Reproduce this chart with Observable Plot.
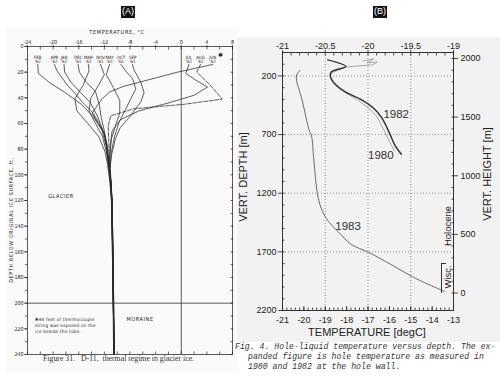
<!DOCTYPE html>
<html><head><meta charset="utf-8">
<script src="https://cdn.jsdelivr.net/npm/d3@7"></script>
<script src="https://cdn.jsdelivr.net/npm/@observablehq/plot@0.6"></script>
<style>
html,body{margin:0;padding:0;background:#fff;}
#root{position:relative;width:500px;height:380px;overflow:hidden;background:#fff;font-family:"Liberation Sans",Arial,sans-serif;color:#222;}
.abs{position:absolute;white-space:nowrap;line-height:1;}
.c{transform:translate(-50%,-50%);}
.rot{transform:translate(-50%,-50%) rotate(-90deg);}
.tag{position:absolute;background:#111;color:#fff;font-size:9px;line-height:11px;text-align:center;}
.lay{position:absolute;left:0;top:0;width:240px;height:380px;}
.layB{position:absolute;left:240px;top:0;width:260px;height:380px;}
.mono{font-family:"Liberation Mono","DejaVu Sans Mono",monospace;font-style:italic;font-size:8.2px;color:#333;}
.cond{font-family:"DejaVu Sans Condensed","Liberation Sans Narrow","Liberation Sans",sans-serif;}
</style></head><body><div id="root"></div>
<script>
// ================= Panel A : D-11 thermal regime (temp °C vs depth ft) =================
const monthNames = ["FEB\n'62","APR\n'62","JAN\n'62","DEC\n'61","MAR\n'62","NOV\n'61","MAY\n'62","OCT\n'61","SEP\n'61","JUL\n'62","AUG\n'62","JUN\n'62"];
// [depth ft, temperature °C]
const feb62 = [[14,-22.4],[21,-22.3],[28,-20.6],[36,-18.1],[45,-15.6],[55,-13.7],[65,-12.4],[78,-11.7],[92,-11.4],[105,-11.1],[120,-10.9],[160,-10.75],[200,-10.6],[240,-10.5]];
const apr62 = [[14,-19.8],[19,-19.4],[30,-17.8],[37,-16.5],[43,-15.5],[51,-13.9],[59,-12.9],[69,-11.9],[80,-11.5],[92,-11.35],[105,-11.0],[120,-10.85],[160,-10.7],[200,-10.6],[240,-10.5]];
const jan62 = [[14,-18.3],[20,-18.2],[28,-17.2],[36,-15.7],[43,-14.3],[54,-13.1],[67,-12.1],[80,-11.6],[92,-11.3],[105,-11.05],[120,-10.8],[160,-10.65],[200,-10.55],[240,-10.45]];
const dec61 = [[14,-16.1],[20,-15.9],[28,-14.8],[35,-13.4],[45,-12.8],[55,-12.5],[66,-12.0],[80,-11.6],[92,-11.25],[105,-11.0],[120,-10.8],[160,-10.7],[200,-10.6],[240,-10.5]];
const mar62 = [[14,-14.5],[19,-14.4],[30,-15.3],[41,-16.6],[50,-16.3],[60,-14.6],[70,-12.9],[82,-11.9],[92,-11.5],[105,-11.15],[120,-10.9],[160,-10.75],[200,-10.65],[240,-10.55]];
const nov61 = [[14,-12.6],[22,-12.0],[30,-12.9],[40,-14.1],[50,-14.4],[60,-13.4],[70,-12.3],[82,-11.7],[92,-11.3],[105,-11.05],[120,-10.85],[160,-10.7],[200,-10.6],[240,-10.5]];
const may62 = [[14,-11.2],[22,-11.7],[32,-10.6],[42,-9.6],[52,-9.6],[62,-10.3],[72,-10.9],[85,-11.15],[95,-11.2],[105,-11.0],[120,-10.8],[160,-10.65],[200,-10.55],[240,-10.45]];
const oct61 = [[14,-9.4],[19,-8.7],[25,-7.6],[33,-7.1],[41,-7.9],[49,-8.7],[59,-9.7],[70,-10.4],[82,-10.9],[95,-11.1],[105,-10.95],[120,-10.8],[160,-10.65],[200,-10.55],[240,-10.5]];
const sep61 = [[14,-7.6],[18,-7.4],[28,-6.3],[36,-5.8],[43,-6.3],[54,-7.9],[63,-9.5],[72,-10.3],[85,-10.9],[95,-11.15],[105,-11.0],[120,-10.85],[160,-10.7],[200,-10.6],[240,-10.5]];
const jul62 = [[14,1.2],[21,0.7],[26,2.2],[31.6,4.1],[38,2.0],[44,-2.0],[50,-6.5],[57,-9.5],[66,-10.8],[78,-11.1],[92,-11.2],[105,-11.0],[120,-10.8],[160,-10.7],[200,-10.6],[240,-10.5]];
const aug62 = [[14,3.0],[20,2.4],[30,4.5],[41,6.4],[45,0.5],[48.5,-7.4],[54,-11.0],[62,-11.4],[75,-11.3],[90,-11.2],[105,-11.0],[120,-10.85],[160,-10.7],[200,-10.6],[240,-10.5]];
const jun62 = [[14,4.9],[20,-0.6],[26.5,-5.5],[31,-9.0],[35.5,-11.2],[41,-12.4],[46,-13.1],[52,-13.9],[60,-13.0],[68,-12.0],[78,-11.5],[92,-11.3],[105,-11.05],[120,-10.85],[160,-10.7],[200,-10.6],[240,-10.5]];
const tempLabelsA = [-24,-20,-16,-12,-8,-4,0,4,8];
const tempMinorA = [-24,-22,-20,-18,-16,-14,-12,-10,-8,-6,-4,-2,0,2,4,6,8];
const depthLabelsA = [0,20,40,60,80,100,120,140,160,180,200,220,240];
const depthMinorA = [0,10,20,30,40,50,60,70,80,90,100,110,120,130,140,150,160,170,180,190,200,210,220,230,240];
const meltLineA = [0];
const moraineTopA = [200];

// ================= Panel B : hole-liquid temperature vs depth =================
const depth1983 = [151,200,414,670,704,926,1200,1328,1439,1525,1636,1704,1807,1918,2020,2038];
const temp1983  = [-20.18,-20.35,-20.07,-19.74,-19.65,-19.53,-19.37,-19.19,-18.86,-18.41,-17.79,-16.97,-15.93,-14.86,-13.65,-13.42];
const depth1982 = [63,120,166,206,257,343,397,471,556,685,798,867];
const temp1982  = [-20.47,-20.26,-20.43,-20.44,-20.40,-20.25,-20.09,-19.94,-19.84,-19.75,-19.68,-19.61];
const depth1980 = [72,55,89,80,106,123,174,209,260,345,405,482,550,653,756,841];
const temp1980  = [-20.06,-19.93,-20.01,-19.89,-19.95,-20.26,-20.43,-20.44,-20.40,-20.26,-20.12,-19.98,-19.89,-19.82,-19.75,-19.69];
const tempLabelsB = [-21,-20,-19,-18,-17,-16,-15,-14,-13];
const tempGridB = [-19,-17,-15];
const tempLabelsTopB = [-21,-20.5,-20,-19.5,-19];
const depthLabelsB = [200,700,1200,1700,2200];
const depthGridB = [200,700,1200,1700];
const heightLabelsB = [0,500,1000,1500,2000];

// ---------------- build ----------------
const root = document.getElementById("root");
function add(html){ root.insertAdjacentHTML("beforeend", html); }
const fmt = d => String(d);
const fontA = "Liberation Sans, Arial, sans-serif";
const fontCond = "DejaVu Sans Condensed, Liberation Sans Narrow, Liberation Sans, sans-serif";

// backgrounds
add(`<div class="abs" style="left:6px;top:28px;width:231px;height:344px;background:#fafafa"></div>`);
add(`<div class="abs" style="left:237px;top:37px;width:263px;height:305px;background:#f2f2f2"></div>`);

const profilesA = [feb62, apr62, jan62, dec61, mar62, nov61, may62, oct61, sep61, jul62, aug62, jun62];
const rowsA = profilesA.flatMap((p, i) => p.map(([d, t]) => ({m: monthNames[i], d, t})));
const startsA = profilesA.map((p, i) => ({m: monthNames[i], d: p[0][0], t: p[0][1]}));

const plotA = Plot.plot({
  width: 240, height: 380,
  marginLeft: 27, marginRight: 8, marginTop: 46, marginBottom: 26,
  style: {background: "transparent", fontFamily: fontCond, color: "#222"},
  x: {domain: [-24, 8], axis: null},
  y: {domain: [0, 240], reverse: true, axis: null},
  marks: [
    Plot.frame({stroke: "#333", strokeWidth: 0.8}),
    Plot.ruleX(meltLineA, {stroke: "#333", strokeWidth: 0.8}),
    Plot.ruleY(moraineTopA, {stroke: "#333", strokeWidth: 0.8}),
    Plot.axisX({anchor: "top", ticks: tempMinorA, tickSize: -2.5, fill: "none", label: null, strokeWidth: 0.7}),
    Plot.axisX({anchor: "top", ticks: tempLabelsA, tickSize: 2, tickPadding: 1, fontSize: 5.3, tickFormat: fmt, label: null, strokeWidth: 0.7}),
    Plot.axisX({anchor: "bottom", ticks: tempMinorA, tickSize: -2.5, fill: "none", label: null, strokeWidth: 0.7}),
    Plot.axisY({anchor: "left", ticks: depthMinorA, tickSize: 2, fill: "none", label: null, strokeWidth: 0.7}),
    Plot.axisY({anchor: "left", ticks: depthLabelsA, tickSize: 3, tickPadding: 1, fontSize: 5.3, tickFormat: fmt, label: null, strokeWidth: 0.7}),
    Plot.axisY({anchor: "right", ticks: depthMinorA, tickSize: -2.5, fill: "none", label: null, strokeWidth: 0.7}),
    Plot.line(rowsA.filter(r => r.m !== "AUG\n'62"), {x: "t", y: "d", z: "m", stroke: "#2a2a2a", strokeWidth: 0.75}),
    Plot.line(rowsA.filter(r => r.m === "AUG\n'62"), {x: "t", y: "d", stroke: "#2a2a2a", strokeWidth: 0.75, strokeDasharray: "4,1.5"}),
    Plot.text(startsA, {x: "t", y: "d", text: "m", lineAnchor: "bottom", dy: -1, fontSize: 4.4, lineHeight: 1.0, fill: "#222"})
  ]
});
const dA = document.createElement("div"); dA.className = "lay"; dA.appendChild(plotA); root.appendChild(dA);

// Panel B layer 1 : bottom scale, depth axis, 1983 curve
const rows1983 = temp1983.map((t, i) => ({t, d: depth1983[i]}));
const rows1982 = temp1982.map((t, i) => ({t, d: depth1982[i]}));
const rows1980 = temp1980.map((t, i) => ({t, d: depth1980[i]}));
const commonB = {width: 260, height: 380, marginLeft: 42, marginRight: 47, marginTop: 52, marginBottom: 70,
  style: {background: "transparent", fontFamily: fontA, color: "#222"}};
const tempMinorB = d3.range(-21, -12.99, 0.2);
const tempMinorTopB = d3.range(-21, -18.99, 0.1);
const depthMinorB = d3.range(0, 2201, 100);
const heightMinorB = d3.range(0, 2001, 100);

const plotB1 = Plot.plot({...commonB,
  x: {domain: [-21, -13], axis: null},
  y: {domain: [0, 2200], reverse: true, axis: null},
  marks: [
    Plot.gridX(tempGridB, {stroke: "#777", strokeOpacity: 1, strokeWidth: 0.8, strokeDasharray: "1,2"}),
    Plot.gridY(depthGridB, {stroke: "#777", strokeOpacity: 1, strokeWidth: 0.8, strokeDasharray: "1,2"}),
    Plot.frame({stroke: "#333", strokeWidth: 1}),
    Plot.axisX({anchor: "bottom", ticks: tempMinorB, tickSize: -2.5, fill: "none", label: null, strokeWidth: 0.8}),
    Plot.axisX({anchor: "bottom", ticks: tempLabelsB, tickSize: -4, tickPadding: 10, fontSize: 9, tickFormat: fmt, label: null, strokeWidth: 0.8}),
    Plot.axisY({anchor: "left", ticks: depthMinorB, tickSize: -2.5, fill: "none", label: null, strokeWidth: 0.8}),
    Plot.axisY({anchor: "left", ticks: depthLabelsB, tickSize: 4, tickPadding: 2, fontSize: 9, tickFormat: fmt, label: null, strokeWidth: 0.8}),
    Plot.line(rows1983, {x: "t", y: "d", stroke: "#6a6a6a", strokeWidth: 1, curve: "catmull-rom"}),
    Plot.text(["1983"], {x: -17.93, y: 1482, text: d => d, fontSize: 11.5, fill: "#333"})
  ]
});
const dB1 = document.createElement("div"); dB1.className = "layB"; dB1.appendChild(plotB1); root.appendChild(dB1);

// Panel B layer 2 : expanded top scale with 1980 & 1982
const plotB2 = Plot.plot({...commonB,
  x: {domain: [-21, -19], axis: null},
  y: {domain: [0, 2200], reverse: true, axis: null},
  marks: [
    Plot.axisX({anchor: "top", ticks: tempMinorTopB, tickSize: -2.5, fill: "none", label: null, strokeWidth: 0.8}),
    Plot.axisX({anchor: "top", ticks: tempLabelsTopB, tickSize: 3, tickPadding: 1, fontSize: 9, tickFormat: fmt, label: null, strokeWidth: 0.8}),
    Plot.line(rows1980, {x: "t", y: "d", stroke: "#a8a8a8", strokeWidth: 1}),
    Plot.line(rows1982, {x: "t", y: "d", stroke: "#333", strokeWidth: 1.5, curve: "catmull-rom"}),
    Plot.text(["1982"], {x: -19.67, y: 525, text: d => d, fontSize: 11.5, fill: "#333"}),
    Plot.text(["1980"], {x: -19.85, y: 875, text: d => d, fontSize: 11.5, fill: "#333"})
  ]
});
const dB2 = document.createElement("div"); dB2.className = "layB"; dB2.appendChild(plotB2); root.appendChild(dB2);

// Panel B layer 3 : vertical height axis on the right
const plotB3 = Plot.plot({...commonB,
  y: {domain: [-149, 2051], axis: null},
  marks: [
    Plot.axisY({anchor: "right", ticks: heightMinorB, tickSize: -2.5, fill: "none", label: null, strokeWidth: 0.8}),
    Plot.axisY({anchor: "right", ticks: heightLabelsB, tickSize: 4, tickPadding: 3, fontSize: 9, tickFormat: fmt, label: null, strokeWidth: 0.8})
  ]
});
const dB3 = document.createElement("div"); dB3.className = "layB"; dB3.appendChild(plotB3); root.appendChild(dB3);

// ---------------- texts ----------------
add(`<div class="tag" style="left:121px;top:6px;width:14px;height:12px">(A)</div>`);
add(`<div class="tag" style="left:373px;top:6px;width:14px;height:12px">(B)</div>`);
// panel A
add(`<div class="abs c cond" style="left:117px;top:33px;font-size:5.5px;letter-spacing:0.7px">TEMPERATURE, °C</div>`);
add(`<div class="abs rot cond" style="left:11.5px;top:220px;font-size:5.3px;letter-spacing:0.7px">DEPTH BELOW ORIGINAL ICE SURFACE, ft.</div>`);
add(`<div class="abs c cond" style="left:61px;top:197px;font-size:5.5px;letter-spacing:0.6px">GLACIER</div>`);
add(`<div class="abs c cond" style="left:140px;top:320px;font-size:5.5px;letter-spacing:0.6px">MORAINE</div>`);
add(`<div class="abs" style="left:218px;top:52px;font-size:6px">✱</div>`);
add(`<div class="abs cond" style="left:35px;top:317px;font-size:4.6px;line-height:6px;letter-spacing:0.25px">✱44 feet of thermocouple<br>string was exposed on the<br>ice beside the tube.</div>`);
add(`<div class="abs" style="left:43px;top:355px;font-family:'Liberation Serif',serif;font-size:7.8px;color:#333">Figure 31.&nbsp;&nbsp; D-11,&nbsp; thermal regime in glacier ice.</div>`);
// panel B
add(`<div class="abs c" style="left:367px;top:332px;font-size:11px">TEMPERATURE [degC]</div>`);
add(`<div class="abs rot" style="left:243px;top:177px;font-size:11px">VERT. DEPTH [m]</div>`);
add(`<div class="abs rot" style="left:487px;top:174px;font-size:11px">VERT. HEIGHT [m]</div>`);
add(`<div class="abs rot" style="left:448px;top:226px;font-size:9.5px">Holocene</div>`);
add(`<div class="abs rot" style="left:448px;top:277px;font-size:9.5px">Wisc.</div>`);
add(`<div class="abs" style="left:441px;top:263px;width:4px;height:29px;border-left:1px solid #333;border-top:1px solid #333"></div>`);
add(`<div class="abs mono" style="left:235px;top:343px">Fig. 4. Hole-liquid temperature versus depth. The ex-</div>`);
add(`<div class="abs mono" style="left:248px;top:353px">panded figure is hole temperature as measured in</div>`);
add(`<div class="abs mono" style="left:248px;top:363px">1980 and 1982 at the hole wall.</div>`);
</script></body></html>
